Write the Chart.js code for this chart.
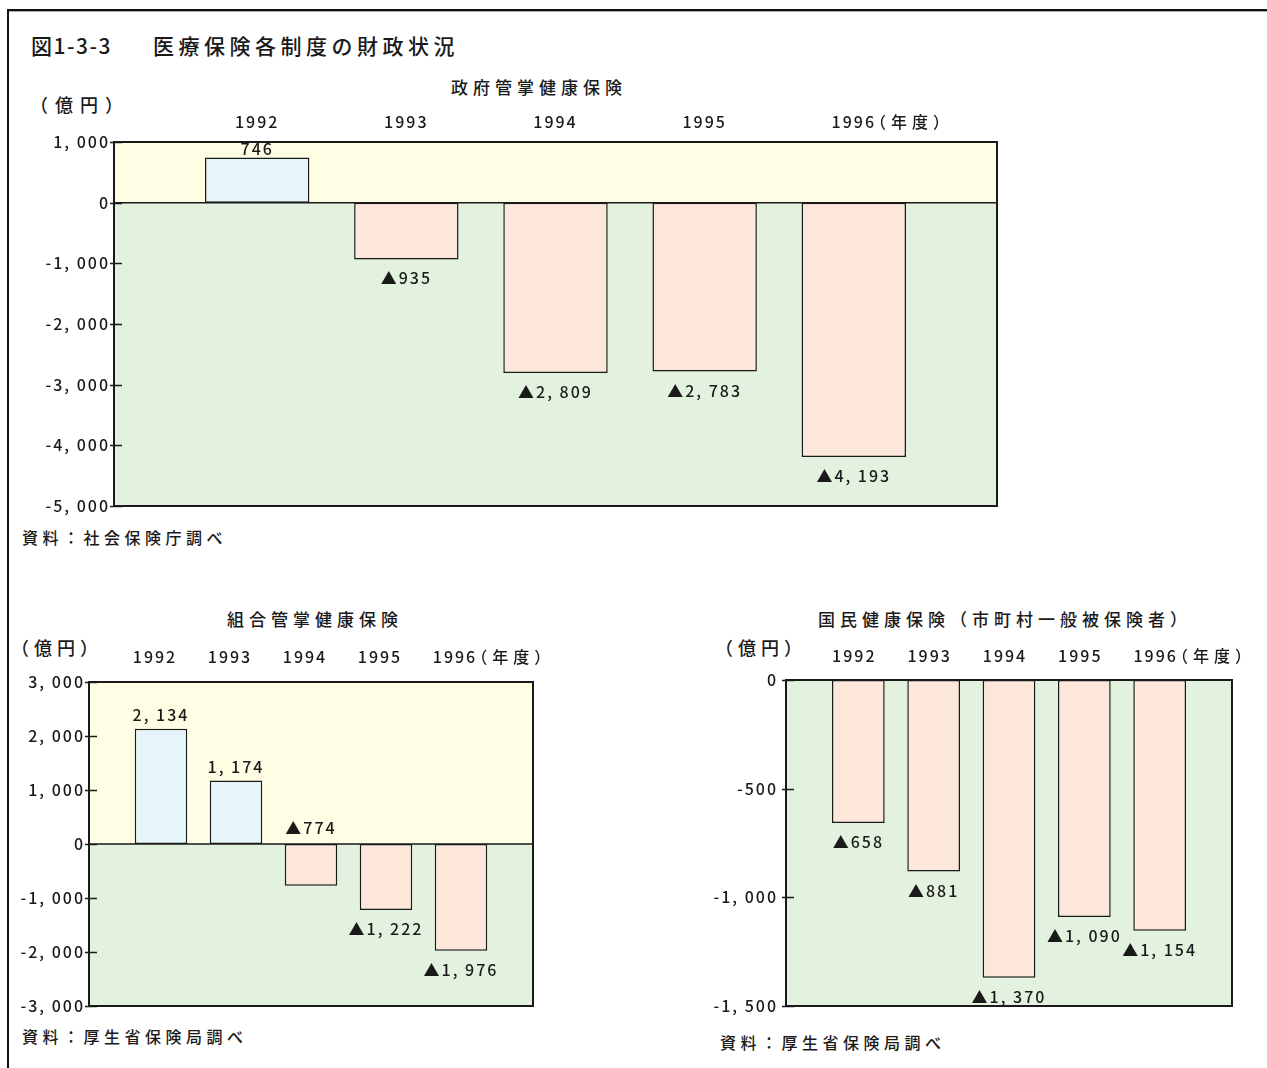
<!DOCTYPE html>
<html lang="ja">
<head>
<meta charset="utf-8">
<title>医療保険各制度の財政状況</title>
<script src="https://cdn.jsdelivr.net/npm/chart.js@4.4.1/dist/chart.umd.min.js"></script>
<style>
  html, body { margin: 0; padding: 0; background: #fff; }
  body { width: 1267px; height: 1068px; position: relative; overflow: hidden;
         font-family: "Noto Sans CJK JP", sans-serif; font-weight: 500; color: #1a1a1a; }
  .frame { position: absolute; left: 7px; top: 9px; width: 1300px; height: 1100px;
           border-top: 2px solid #111; border-left: 2px solid #111; }
  .shade { position: absolute; left: 9px; top: 11px; width: 1300px; height: 1px; background: #aaa; }
  .t { position: absolute; white-space: nowrap; line-height: 1; }
  .title { font-size: 21px; top: 35px; }
  .sub { font-size: 17px; letter-spacing: 5px; }
  .unit { font-size: 18px; letter-spacing: 5px; }
  .note { font-size: 16px; letter-spacing: 4.5px; }
  canvas { position: absolute; }
</style>
</head>
<body>
<div class="frame"></div>
<div class="shade"></div>

<div class="t title" style="left:31px; letter-spacing:1.5px">図1-3-3</div>
<div class="t title" style="left:153px; letter-spacing:4.5px">医療保険各制度の財政状況</div>

<div class="t sub" style="left:451px; top:78px">政府管掌健康保険</div>
<div class="t unit" style="left:30px; top:95px; letter-spacing:7px">（億円）</div>
<div class="t note" style="left:22px; top:529px">資料：社会保険庁調べ</div>

<div class="t sub" style="left:227px; top:610px">組合管掌健康保険</div>
<div class="t unit" style="left:11px; top:638px">（億円）</div>
<div class="t note" style="left:22px; top:1028px">資料：厚生省保険局調べ</div>

<div class="t sub" style="left:818px; top:610px">国民健康保険（市町村一般被保険者）</div>
<div class="t unit" style="left:715px; top:638px">（億円）</div>
<div class="t note" style="left:720px; top:1034px">資料：厚生省保険局調べ</div>

<canvas id="seifu" width="1010" height="520" style="left:0; top:0"></canvas>
<canvas id="kumiai" width="560" height="470" style="left:0; top:560px"></canvas>
<canvas id="kokuho" width="567" height="470" style="left:700px; top:560px"></canvas>

<script>
const FONT = '"Noto Sans CJK JP", "Noto Sans", sans-serif';
const INK = '#1a1a1a';
const YELLOW = '#fffee4';
const GREEN = '#e3f2df';
const PLUS = '#e6f5fa';
const MINUS = '#fde6da';

// 年度
const years = ['1992', '1993', '1994', '1995', '1996'];
const yearUnit = '（年度）';

// 政府管掌健康保険（億円）
const seifuValues = [746, -935, -2809, -2783, -4193];
const seifuTicks = [1000, 0, -1000, -2000, -3000, -4000, -5000];

// 組合管掌健康保険（億円）
const kumiaiValues = [2134, 1174, -774, -1222, -1976];
const kumiaiTicks = [3000, 2000, 1000, 0, -1000, -2000, -3000];

// 国民健康保険（市町村一般被保険者）（億円）
const kokuhoValues = [-658, -881, -1370, -1090, -1154];
const kokuhoTicks = [0, -500, -1000, -1500];

// 1,000 -> "1, 000"
function fmt(v) {
  const s = Math.abs(v).toString().replace(/\B(?=(\d{3})+(?!\d))/g, ', ');
  return (v < 0 ? '-' : '') + s;
}

// 文字間隔（キャンバスの状態はリサイズで消えるので毎回入れる）
const spacing = {
  id: 'spacing',
  beforeLayout(chart) { chart.ctx.letterSpacing = '2px'; },
  beforeDraw(chart) { chart.ctx.letterSpacing = '2px'; }
};

// 背景の黄/緑、ゼロ線、枠、目盛り、数値ラベル
const panel = {
  id: 'panel',
  beforeDatasetsDraw(chart) {
    const { ctx, chartArea: a, scales: { y } } = chart;
    const z = Math.max(a.top, Math.min(a.bottom, y.getPixelForValue(0)));
    ctx.save();
    ctx.fillStyle = YELLOW;
    ctx.fillRect(a.left, a.top, a.width, z - a.top);
    ctx.fillStyle = GREEN;
    ctx.fillRect(a.left, z, a.width, a.bottom - z);
    ctx.restore();
  },
  afterDatasetsDraw(chart, args, opts) {
    const { ctx, chartArea: a, scales: { x, y } } = chart;
    ctx.save();
    ctx.strokeStyle = INK;
    ctx.lineWidth = 1.5;
    const z = y.getPixelForValue(0);
    ctx.beginPath();
    ctx.moveTo(a.left, z); ctx.lineTo(a.right, z);
    y.ticks.forEach(t => {
      const py = Math.round(y.getPixelForValue(t.value)) + 0.5;
      ctx.moveTo(a.left - 4, py); ctx.lineTo(a.left + 8, py);
    });
    ctx.stroke();
    ctx.lineWidth = 2;
    ctx.strokeRect(a.left, a.top, a.width, a.height);

    ctx.font = '500 16px ' + FONT;
    ctx.fillStyle = INK;
    ctx.textAlign = 'center';
    ctx.textBaseline = 'middle';
    const ds = chart.data.datasets[0];
    chart.getDatasetMeta(0).data.forEach((bar, i) => {
      const v = ds.data[i].y;
      let ty;
      if (v >= 0) ty = Math.max(bar.y - 14, a.top + 7);
      else if (opts.above.includes(i)) ty = bar.base - 16;
      else ty = bar.y + 19;
      ctx.fillText(v >= 0 ? fmt(v) : '▲' + fmt(-v), bar.x, ty);
    });

    // 最後の年の後ろに（年度）
    const last = x.ticks.length - 1;
    const lx = x.getPixelForValue(x.ticks[last].value) + opts.labelOffset;
    const w = ctx.measureText(years[last]).width;
    const ly = a.top - opts.xPad - 9.6;
    ctx.textAlign = 'left';
    ctx.letterSpacing = '5px';
    ctx.fillText(yearUnit, lx + w / 2 - 6, ly);
    ctx.restore();
  }
};

function makeChart(id, values, ticks, o) {
  const tickFont = { family: FONT, size: 16, weight: 500 };
  return new Chart(document.getElementById(id), {
    type: 'bar',
    data: {
      datasets: [{
        data: values.map((v, i) => ({ x: i + 1, y: v })),
        backgroundColor: values.map(v => v >= 0 ? PLUS : MINUS),
        borderColor: INK,
        borderWidth: 1.5,
        borderSkipped: false,
        barPercentage: 0.7,
        categoryPercentage: 1
      }]
    },
    options: {
      responsive: false,
      animation: false,
      devicePixelRatio: 1,
      layout: { padding: { top: 0, left: 0, right: o.padRight, bottom: o.padBottom } },
      plugins: {
        legend: { display: false },
        tooltip: { enabled: false },
        panel: { above: o.above || [], labelOffset: o.labelOffset, xPad: o.xPad }
      },
      scales: {
        x: {
          type: 'linear',
          position: 'top',
          offset: false,
          min: 0.04,
          max: 5.96,
          grid: { display: false, drawTicks: false },
          border: { display: false },
          afterBuildTicks: s => { s.ticks = years.map((_, i) => ({ value: i + 1 })); },
          afterFit: s => { s.height = o.xHeight; },
          ticks: {
            autoSkip: false, maxRotation: 0,
            padding: o.xPad, labelOffset: o.labelOffset,
            color: INK, font: tickFont,
            callback: v => years[v - 1]
          }
        },
        y: {
          min: Math.min(...ticks),
          max: Math.max(...ticks),
          grid: { display: false, drawTicks: false },
          border: { display: false },
          afterBuildTicks: s => { s.ticks = ticks.map(v => ({ value: v })); },
          afterFit: s => { s.width = o.yWidth; },
          ticks: {
            padding: o.yPad,
            color: INK, font: tickFont,
            callback: v => fmt(v)
          }
        }
      }
    },
    plugins: [spacing, panel]
  });
}

makeChart('seifu', seifuValues, seifuTicks,
  { yWidth: 114, xHeight: 142, padRight: 13, padBottom: 14, xPad: 10, labelOffset: 0, yPad: 4 });
makeChart('kumiai', kumiaiValues, kumiaiTicks,
  { yWidth: 89, xHeight: 122, padRight: 27, padBottom: 24, xPad: 15, labelOffset: -6, yPad: 4, above: [2] });
makeChart('kokuho', kokuhoValues, kokuhoTicks,
  { yWidth: 86, xHeight: 120, padRight: 35, padBottom: 24, xPad: 14, labelOffset: -4, yPad: 8 });
</script>
</body>
</html>
